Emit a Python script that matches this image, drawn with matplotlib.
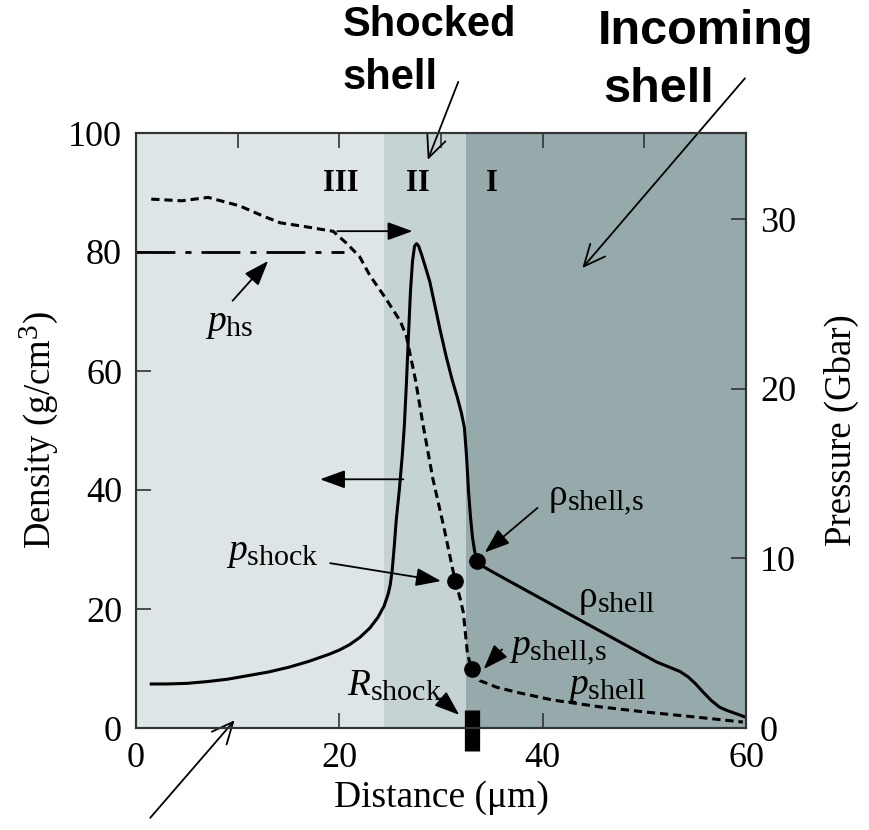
import matplotlib
matplotlib.use("Agg")
import matplotlib.pyplot as plt
try:
    import matplotlib._mathtext as _mt
    _mt.SHRINK_FACTOR = 0.8
except Exception:
    pass

plt.rcParams['font.family'] = ['Liberation Serif', 'DejaVu Serif']
plt.rcParams['mathtext.fontset'] = 'custom'
plt.rcParams['mathtext.rm'] = 'Liberation Serif'
plt.rcParams['mathtext.it'] = 'Liberation Serif:italic'
plt.rcParams['mathtext.bf'] = 'Liberation Serif:bold'

# ---- data ----
dens_x = [1.5, 3, 5, 7, 9, 11, 13, 15, 17, 19, 20, 21, 22, 23, 23.8, 24.4, 24.8,
          25.0, 25.2, 25.4, 25.6, 25.9, 26.2, 26.4, 26.6, 26.8, 27.0, 27.2, 27.4,
          27.6, 27.8, 28.1, 28.5, 28.9, 29.4, 29.9, 30.5, 31.1, 31.6, 32.0, 32.3,
          32.5, 32.7, 32.9, 33.1, 33.3, 33.5, 34.0, 35.0, 40.0, 45.0, 51.2, 52.5,
          53.5, 54.3, 55.0, 55.8, 56.6, 57.4, 58.2, 59.2, 60.0]
dens_y = [7.4, 7.4, 7.5, 7.8, 8.2, 8.8, 9.4, 10.2, 11.2, 12.4, 13.1, 14.0, 15.2,
          16.8, 18.6, 20.5, 22.5, 24.0, 26.5, 30.5, 35.0, 40.0, 46.0, 51.0, 58.0,
          66.0, 73.5, 78.5, 81.0, 81.4, 81.0, 79.5, 77.3, 75.0, 71.0, 67.0, 62.5,
          58.5, 55.6, 53.0, 50.5, 46.0, 40.0, 35.5, 32.0, 29.8, 28.4, 27.3, 26.3,
          21.6, 16.9, 11.1, 10.2, 9.5, 8.6, 7.5, 6.0, 4.6, 3.5, 2.9, 2.3, 1.8]

pres_x = [1.5, 4.5, 7.1, 10.2, 12.5, 14.2, 16.4, 19.4, 20.7, 22.0, 23.0, 24.5, 26.0,
          26.6, 27.5, 28.2, 29.2, 30.3, 31.1, 31.4, 31.9, 32.2, 32.6, 33.0, 33.8,
          35.5, 37.5, 41.0, 45.6, 50.0, 55.0, 59.7]
pres_y = [31.2, 31.1, 31.3, 30.8, 30.2, 29.8, 29.6, 29.3, 28.6, 27.8, 26.7, 25.4, 24.0,
          23.1, 20.5, 18.0, 14.7, 11.8, 9.5, 8.7, 7.6, 6.8, 4.4, 3.5, 2.8,
          2.4, 2.1, 1.65, 1.25, 0.95, 0.65, 0.35]

phs_x = [0.0, 20.5]
phs_y = [80.0, 80.0]

regions = [(0.0, 24.4, '#dde5e6'), (24.4, 32.45, '#c6d3d4'), (32.45, 60.0, '#97aaab')]
region_labels = ['III', 'II', 'I']
region_label_x = [20.1, 27.7, 35.0]

rho_shell_s = (33.5, 28.1)
p_shock = (31.4, 8.7)
p_shell_s = (33.0, 3.5)
r_shock = 33.0

x_ticks = [0, 20, 40, 60]
top_ticks = [10, 20, 30, 40, 50]
dens_ticks = [0, 20, 40, 60, 80, 100]
pres_ticks = [0, 10, 20, 30]
PMAX = 35.1

fig = plt.figure(figsize=(8.7, 8.3), dpi=100)
ax = fig.add_axes([136/870, 1-728/830, 610/870, 595/830])
ax2 = ax.twinx()

for (a, b, c) in regions:
    ax.axvspan(a, b, color=c, lw=0, zorder=0)

ax.set_xlim(0, 60)
ax.set_ylim(0, 100)
ax2.set_ylim(0, PMAX)

ax.plot(dens_x, dens_y, color='black', lw=2.2, zorder=3, solid_joinstyle='round')
ax.plot(phs_x, phs_y, color='black', lw=2.0, dashes=(14, 3.6, 2.2, 3.6), zorder=3)
ax2.plot(pres_x, pres_y, color='black', lw=2.2, dashes=(2.7, 1.6), zorder=3)

ax.plot([rho_shell_s[0]], [rho_shell_s[1]], 'o', color='black', ms=11, zorder=5)
ax2.plot([p_shock[0]], [p_shock[1]], 'o', color='black', ms=11, zorder=5)
ax2.plot([p_shell_s[0]], [p_shell_s[1]], 'o', color='black', ms=11, zorder=5)
ax.plot([r_shock, r_shock], [-3.8, 3.0], color='black', lw=11,
        solid_capstyle='butt', clip_on=False, zorder=6)

for lab, xx in zip(region_labels, region_label_x):
    ax.text(xx, 91.5, lab, ha='center', va='center', fontsize=22,
            fontweight='bold')

# ticks
ax.set_xticks(x_ticks)
ax.set_yticks(dens_ticks)
ax2.set_yticks(pres_ticks)
for a in (ax, ax2):
    a.tick_params(direction='in', length=11, width=1.2, labelsize=26,
                  color='#333333')
ax.tick_params(axis='x', pad=10)
ax.tick_params(axis='y', pad=10)
ax2.tick_params(axis='y', pad=10)
sec = ax.secondary_xaxis('top')
sec.set_xticks(top_ticks)
sec.tick_params(direction='in', length=11, width=1.2, labeltop=False,
                color='#333333')
for a in (ax, ax2):
    for s in a.spines.values():
        s.set_linewidth(1.5)
        s.set_color('#333333')
sec.spines['top'].set_visible(False)

ax.set_xlabel('Distance (μm)', fontsize=27, labelpad=4)
ax.set_ylabel('Density (g/cm$^3$)', fontsize=26.5, labelpad=6)
ax2.set_ylabel('Pressure (Gbar)', fontsize=26.5, labelpad=20)

# annotations
open_arrow = dict(arrowstyle='->,head_length=0.55,head_width=0.25', color='black',
                  lw=1.3, mutation_scale=28, shrinkA=0, shrinkB=0)
fill_arrow = dict(arrowstyle='-|>,head_length=0.55,head_width=0.2', color='black',
                  lw=1.3, mutation_scale=28, shrinkA=0, shrinkB=0)

sans = ['Liberation Sans', 'DejaVu Sans']
fig.text(430/870, 1-25/830, 'Shocked', family=sans, fontweight='bold',
         fontsize=30, ha='center', va='center')
fig.text(390/870, 1-78/830, 'shell', family=sans, fontweight='bold',
         fontsize=30, ha='center', va='center')
fig.text(706/870, 1-32/830, 'Incoming', family=sans, fontweight='bold',
         fontsize=35, ha='center', va='center')
fig.text(659/870, 1-90/830, 'shell', family=sans, fontweight='bold',
         fontsize=35, ha='center', va='center')

ax.annotate('', xy=(28.7, 95.5), xytext=(31.7, 108.6), arrowprops=open_arrow,
            annotation_clip=False)
ax.annotate('', xy=(43.9, 77.3), xytext=(59.9, 109.2), arrowprops=open_arrow,
            annotation_clip=False)
ax.annotate('', xy=(9.7, 1.3), xytext=(1.4, -15.1), arrowprops=open_arrow,
            annotation_clip=False)
ax.annotate('', xy=(27.2, 83.5), xytext=(19.8, 83.5), arrowprops=fill_arrow)
ax.annotate('', xy=(18.1, 41.8), xytext=(26.3, 41.8), arrowprops=fill_arrow)

lab_fs = 27
ax.text(9.2, 68.0, r'$p_{\mathrm{hs}}$', fontsize=lab_fs, ha='center', va='center')
ax.annotate('', xy=(13.0, 78.5), xytext=(9.5, 71.8), arrowprops=fill_arrow)

ax.text(13.4, 29.4, r'$p_{\mathrm{shock}}$', fontsize=lab_fs, ha='center', va='center')
ax.annotate('', xy=(30.0, 24.7), xytext=(19.1, 27.7), arrowprops=fill_arrow)

ax.text(45.2, 38.3, r'ρ$_{\mathrm{shell{,}s}}$', fontsize=lab_fs, ha='center', va='center')
ax.annotate('', xy=(34.3, 29.5), xytext=(39.5, 37.0), arrowprops=fill_arrow)

ax.text(47.3, 21.5, r'ρ$_{\mathrm{shell}}$', fontsize=lab_fs, ha='center', va='center')

ax.text(41.5, 13.1, r'$p_{\mathrm{shell{,}s}}$', fontsize=lab_fs, ha='center', va='center')
ax.annotate('', xy=(34.2, 9.9), xytext=(36.0, 13.2), arrowprops=fill_arrow)

ax.text(46.3, 7.0, r'$p_{\mathrm{shell}}$', fontsize=lab_fs, ha='center', va='center')

ax.text(25.4, 7.0, r'$R_{\mathrm{shock}}$', fontsize=lab_fs, ha='center', va='center')
ax.annotate('', xy=(31.8, 2.2), xytext=(29.9, 5.0), arrowprops=fill_arrow)

fig.savefig('out.png', dpi=100, facecolor='white')
